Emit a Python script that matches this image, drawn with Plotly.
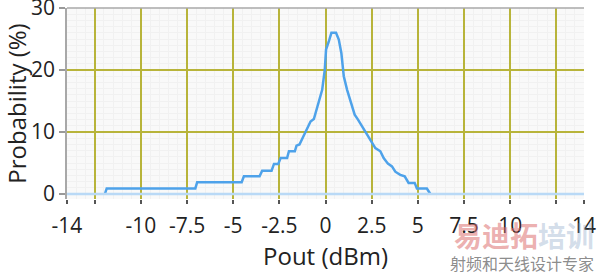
import plotly.graph_objects as go

# Data
pout_dbm = [-11.95, -11.85, -7.05, -6.95, -4.54, -4.42, -3.57, -3.43, -2.92, -2.79,
            -2.56, -2.43, -2.08, -1.98, -1.66, -1.57, -1.41, -1.26, -1.05, -0.81,
            -0.63, -0.36, -0.18, -0.04, 0.03, 0.18, 0.32, 0.57, 0.72, 0.86,
            0.99, 1.17, 1.35, 1.58, 1.76, 1.98, 2.16, 2.34, 2.52, 2.70,
            2.97, 3.15, 3.38, 3.6, 3.78, 4.05, 4.29, 4.5, 4.83, 4.95,
            5.49, 5.68]
probability = [0, 0.9, 0.9, 1.9, 1.9, 2.85, 2.85, 3.75, 3.75, 4.85,
               4.85, 5.8, 5.8, 6.9, 6.9, 7.8, 8.0, 9.0, 10.3, 11.7,
               12.1, 14.7, 16.8, 20.0, 23.3, 24.6, 26.0, 26.0, 24.9, 22.7,
               19.0, 16.8, 15.2, 12.8, 12.0, 10.9, 10.1, 9.3, 8.2, 7.4,
               6.9, 5.8, 4.9, 4.45, 3.6, 3.1, 2.85, 1.8, 1.8, 0.9,
               0.9, 0]
baseline_x = [-14, 14]
baseline_y = [0, 0]

x_tickvals = [-14, -12.5, -10, -7.5, -5, -2.5, 0, 2.5, 5, 7.5, 10, 12.5, 14]
x_ticktext = ["-14", "", "-10", "-7.5", "-5", "-2.5", "0", "2.5", "5", "7.5", "10", "", "14"]
y_tickvals = [0, 10, 20, 30]

FONT = "Open Sans"
GRID = "#b8b43a"
TICKSIZE = 21
TITLESIZE = 24

fig = go.Figure()
fig.add_trace(go.Scatter(x=baseline_x, y=baseline_y, mode="lines", xaxis="x2",
                         line=dict(color="#b9d9f6", width=2.5), hoverinfo="skip"))
fig.add_trace(go.Scatter(x=pout_dbm, y=probability, mode="lines",
                         line=dict(color="#4ea2ea", width=2.5)))

fig.update_layout(
    width=600, height=274,
    margin=dict(l=67, r=16, t=8, b=75, autoexpand=False),
    paper_bgcolor="white", plot_bgcolor="#f9f9f9",
    showlegend=False,
    font=dict(family=FONT, size=TICKSIZE, color="#222"),
    xaxis=dict(range=[-14, 14], tick0=-12.5, dtick=2.5, showticklabels=False,
               automargin=False,
               showgrid=True, gridcolor=GRID, gridwidth=1.5, zeroline=False,
               ticks="outside", ticklen=4, tickcolor="#555", tickwidth=1.5,
               minor=dict(dtick=0.5, showgrid=True, gridcolor="#f1f1f1", gridwidth=0.5),
               showline=False),
    xaxis2=dict(range=[-14, 14], overlaying="x", side="bottom", tickmode="array",
                automargin=False,
                tickvals=x_tickvals, ticktext=x_ticktext, showgrid=False, zeroline=False,
                ticks="outside", ticklen=4, tickcolor="#555", tickwidth=1.5,
                ticklabelstandoff=4, ticklabeloverflow="allow",
                tickfont=dict(family=FONT, size=TICKSIZE, color="#222"),
                title=dict(text="Pout (dBm)", font=dict(family=FONT, size=TITLESIZE, color="#222"),
                           standoff=4)),
    yaxis=dict(range=[-0.8, 30], tickmode="array", tickvals=y_tickvals,
               automargin=False,
               showgrid=True, gridcolor=GRID, gridwidth=1.5, zeroline=False,
               ticks="outside", ticklen=6, tickcolor="#999", tickwidth=1.5,
               ticklabeloverflow="allow",
               minor=dict(dtick=1, showgrid=True, gridcolor="#f1f1f1", gridwidth=0.5),
               showline=True, linecolor="#a8a8a8", linewidth=1.5,
               tickfont=dict(family=FONT, size=TICKSIZE, color="#222"),
               title=dict(text="Probability (%)", font=dict(family=FONT, size=TITLESIZE, color="#222"),
                          standoff=2)),
    shapes=[dict(type="line", xref="paper", yref="paper", x0=0, x1=1, y0=1, y1=1,
                 line=dict(color="#a8a8a8", width=1.5))],
    annotations=[
        dict(text="<b>易迪拓</b><span style='color:rgba(120,150,190,0.6)'><b>培训</b></span>",
             xref="paper", yref="paper", x=1.0, y=0, xanchor="right", yanchor="top",
             xshift=12, yshift=-14, showarrow=False,
             font=dict(family="Noto Sans CJK SC", size=28, color="rgba(220,110,110,0.55)")),
        dict(text="射频和天线设计专家", xref="paper", yref="paper", x=1.0, y=0,
             xanchor="right", yanchor="top", xshift=12, yshift=-50, showarrow=False,
             font=dict(family="Noto Sans CJK SC", size=16, color="rgba(110,110,110,0.8)")),
    ],
)

fig.write_html("out.html")
